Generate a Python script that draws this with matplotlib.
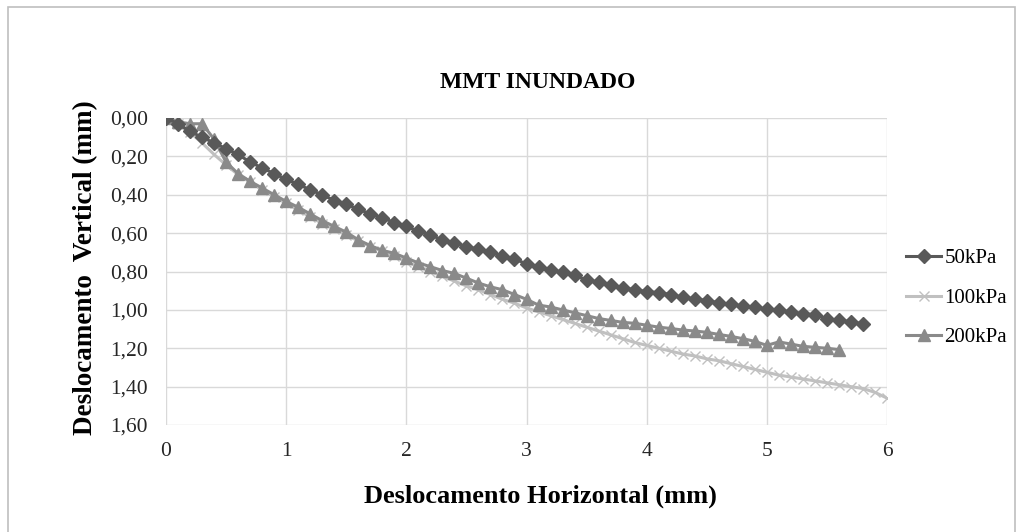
import matplotlib
matplotlib.use("Agg")
import matplotlib.pyplot as plt
from matplotlib.patches import Rectangle
from matplotlib.ticker import FuncFormatter, MultipleLocator

plt.rcParams["font.family"] = ["Liberation Serif", "DejaVu Serif"]

TITLE = "MMT INUNDADO"
XLABEL = "Deslocamento Horizontal (mm)"
YLABEL = "Deslocamento  Vertical (mm)"

# horizontal displacement (mm), 0.1 mm steps
x_50 = [i / 10 for i in range(59)]      # 0.0 .. 5.8
x_100 = [i / 10 for i in range(61)]     # 0.0 .. 6.0
x_200 = [i / 10 for i in range(57)]     # 0.0 .. 5.6

y_50 = [0.00, 0.03, 0.07, 0.10, 0.13, 0.16, 0.19, 0.23, 0.26, 0.29,
        0.32, 0.345, 0.375, 0.40, 0.43, 0.45, 0.475, 0.50, 0.52, 0.545,
        0.565, 0.59, 0.61, 0.635, 0.65, 0.67, 0.685, 0.70, 0.72, 0.735,
        0.76, 0.775, 0.79, 0.805, 0.82, 0.845, 0.855, 0.87, 0.885, 0.895,
        0.905, 0.91, 0.92, 0.935, 0.942, 0.952, 0.963, 0.971, 0.98, 0.985,
        0.997, 1.003, 1.01, 1.02, 1.025, 1.045, 1.055, 1.062, 1.073]

y_100 = [0.00, 0.03, 0.075, 0.13, 0.19, 0.245, 0.295, 0.335, 0.375, 0.41,
         0.445, 0.48, 0.515, 0.55, 0.58, 0.61, 0.64, 0.67, 0.695, 0.72,
         0.75, 0.775, 0.80, 0.825, 0.85, 0.875, 0.895, 0.92, 0.945, 0.965,
         0.99, 1.01, 1.03, 1.05, 1.07, 1.09, 1.11, 1.13, 1.15, 1.17,
         1.185, 1.20, 1.215, 1.23, 1.24, 1.255, 1.265, 1.28, 1.295, 1.31,
         1.325, 1.34, 1.35, 1.36, 1.37, 1.38, 1.39, 1.40, 1.41, 1.43,
         1.46]

y_200 = [0.00, 0.02, 0.03, 0.03, 0.11, 0.23, 0.29, 0.33, 0.365, 0.40,
         0.435, 0.465, 0.50, 0.535, 0.565, 0.595, 0.635, 0.665, 0.69, 0.705,
         0.73, 0.755, 0.775, 0.795, 0.81, 0.835, 0.86, 0.88, 0.895, 0.92,
         0.945, 0.975, 0.985, 1.00, 1.015, 1.03, 1.045, 1.055, 1.065, 1.07,
         1.08, 1.09, 1.097, 1.105, 1.11, 1.117, 1.128, 1.138, 1.15, 1.164,
         1.185, 1.167, 1.178, 1.19, 1.195, 1.20, 1.207]

W, H = 1022, 532
fig = plt.figure(figsize=(W / 100, H / 100), dpi=100)
ax = fig.add_axes([166 / W, 1 - 425 / H, (887 - 166) / W, (425 - 118) / H])

ax.plot(x_50, y_50, "-", color="#595959", lw=2.2, marker="D", ms=7.5,
        label="50kPa", zorder=3)
ax.plot(x_100, y_100, "-", color="#c0c0c0", lw=2.2, marker="x", ms=7,
        mew=1.0, label="100kPa", zorder=2)
ax.plot(x_200, y_200, "-", color="#8a8a8a", lw=2.2, marker="^", ms=8.5,
        label="200kPa", zorder=2.5)

ax.set_xlim(0, 6)
ax.set_ylim(1.6, 0)
ax.xaxis.set_major_locator(MultipleLocator(1))
ax.yaxis.set_major_locator(MultipleLocator(0.2))
ax.yaxis.set_major_formatter(FuncFormatter(lambda v, p: f"{v:.2f}".replace(".", ",")))
ax.grid(True, color="#d9d9d9", lw=1.0)
ax.set_axisbelow(True)
for s in ax.spines.values():
    s.set_visible(False)
ax.tick_params(length=0, labelsize=15.5, labelcolor="#262626")
ax.tick_params(axis="y", pad=13)
ax.tick_params(axis="x", pad=12)

fig.text(538 / W, 1 - 82 / H, TITLE, ha="center", va="center",
         fontsize=17, fontweight="bold")
fig.text(540 / W, 1 - 496 / H, XLABEL, ha="center", va="center",
         fontsize=19, fontweight="bold")
fig.text(86 / W, 1 - 268 / H, YLABEL, ha="center", va="center",
         rotation=90, fontsize=19.5, fontweight="bold")

fig.legend(loc="center left", bbox_to_anchor=(906 / W, 1 - 298 / H),
           frameon=False, fontsize=15, handlelength=1.7, handletextpad=0.15,
           labelspacing=0.95, borderpad=0, borderaxespad=0)

fig.patches.append(Rectangle((7.5 / W, -0.02), (1014.5 - 7.5) / W, 1.02 - 7 / H,
                             transform=fig.transFigure, fill=False,
                             edgecolor="#bfbfbf", lw=1.2))

fig.savefig("out.png", dpi=100)
